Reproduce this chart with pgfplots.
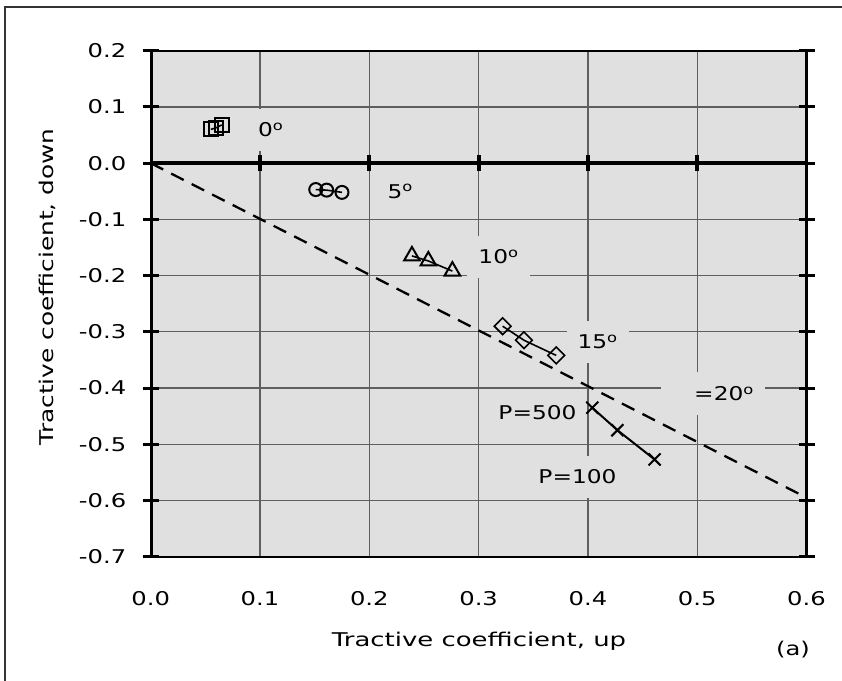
\documentclass[border=0pt]{standalone}
\usepackage{graphicx}
\usepackage{pgfplots}
\pgfplotsset{compat=1.18}
\usepackage{fontspec}
\setmainfont{DejaVu Sans}
\definecolor{plotgray}{RGB}{224,224,224}
\definecolor{gridgray}{RGB}{95,95,95}

\begin{document}
\fontsize{19}{23}\selectfont
\begin{tikzpicture}[x=1bp,y=1bp]
\useasboundingbox (0,0) rectangle (842,681);
\draw[line width=1.5bp, black!80] (5,0) -- (5,674) -- (842,674);
\begin{axis}[
  at={(150.7bp,124.3bp)}, anchor=south west,
  scale only axis, width=655.8bp, height=506bp,
  xmin=0, xmax=0.6, ymin=-0.7, ymax=0.2,
  xtick={0,0.1,0.2,0.3,0.4,0.5,0.6},
  ytick={-0.7,-0.6,-0.5,-0.4,-0.3,-0.2,-0.1,0,0.1,0.2},
  /pgf/number format/fixed,
  /pgf/number format/fixed zerofill,
  /pgf/number format/precision=1,
  /pgf/number format/assume math mode=true,
  xticklabel={\scalebox{1.28}[1]{\pgfmathprintnumber{\tick}}},
  yticklabel={\scalebox{1.28}[1]{\pgfmathprintnumber{\tick}}},
  ticklabel style={font=\fontsize{19}{23}\selectfont},
  xticklabel style={anchor=north, yshift=-20bp},
  yticklabel style={anchor=east, xshift=-10bp},
  grid=major,
  major grid style={draw=gridgray, line width=1.3bp},
  axis background/.style={fill=plotgray},
  axis line style={line width=2.2bp},
  xtick style={draw=none},
  ytick style={line width=3bp, black},
  major tick length=16bp, tick align=center,
  mark options={solid, line width=2bp, fill=none},
]
% labels (their boxes hide the grid)
\tikzset{lab/.style={anchor=west, fill=plotgray, inner xsep=11bp, inner ysep=14bp, xshift=-11bp}}
\node[lab] at (axis cs:0.098,0.059) {\scalebox{1.23}[1]{0\textsuperscript{o}}};
\node[lab] at (axis cs:0.2165,-0.050) {\scalebox{1.23}[1]{5\textsuperscript{o}}};
\node[lab] at (axis cs:0.2997,-0.167) {\scalebox{1.23}[1]{10\textsuperscript{o}}};
\node[lab] at (axis cs:0.3903,-0.318) {\scalebox{1.23}[1]{15\textsuperscript{o}}};
\node[lab, xshift=-22bp] at (axis cs:0.4971,-0.410) {\hspace*{22bp}\scalebox{1.23}[1]{=20\textsuperscript{o}}};
\node[lab] at (axis cs:0.318,-0.444) {\scalebox{1.23}[1]{P=500}};
\node[lab] at (axis cs:0.3546,-0.558) {\scalebox{1.23}[1]{P=100}};

% reference line
\addplot[black, line width=2.3bp, dash pattern=on 14bp off 9bp] coordinates {(0,0)(0.6,-0.595)};

% 0 deg
\addplot[black, line width=1.6bp, mark=square, mark size=7bp] coordinates {
  (0.055,0.060)(0.060,0.063)(0.065,0.068)};
% 5 deg
\addplot[black, line width=1.6bp, mark=o, mark size=6.5bp] coordinates {
  (0.151,-0.047)(0.161,-0.048)(0.175,-0.052)};
% 10 deg
\addplot[black, line width=1.6bp, mark=triangle, mark size=9bp] coordinates {
  (0.239,-0.165)(0.254,-0.174)(0.276,-0.192)};
% 15 deg
\addplot[black, line width=1.6bp, mark=square, mark size=5.9bp, mark options={rotate=45}] coordinates {
  (0.322,-0.290)(0.3415,-0.315)(0.371,-0.342)};
% 20 deg, P=500 to P=100
\addplot[black, line width=2bp, mark=x, mark size=8.5bp] coordinates {
  (0.404,-0.435)(0.427,-0.475)(0.461,-0.527)};

% axis at zero and left axis
\draw[line width=4.5bp] (axis cs:0,0) -- (axis cs:0.6,0);
\draw[line width=4bp] (axis cs:0.1,-0.014) -- (axis cs:0.1,0.014);
\draw[line width=4bp] (axis cs:0.2,-0.014) -- (axis cs:0.2,0.014);
\draw[line width=4bp] (axis cs:0.3,-0.014) -- (axis cs:0.3,0.014);
\draw[line width=4bp] (axis cs:0.4,-0.014) -- (axis cs:0.4,0.014);
\draw[line width=4bp] (axis cs:0.5,-0.014) -- (axis cs:0.5,0.014);
\draw[line width=4bp] (axis cs:0.6,-0.014) -- (axis cs:0.6,0.014);
\draw[line width=5.5bp] (axis cs:0,-0.7) -- (axis cs:0,0.2);
\end{axis}
\node at (479,40) {\scalebox{1.37}[1]{Tractive coefficient, up}};
\node[rotate=90] at (47,394) {\scalebox{1.31}[1]{Tractive coefficient, down}};
\node at (793,31) {\scalebox{1.28}[1]{(a)}};
\end{tikzpicture}
\end{document}
